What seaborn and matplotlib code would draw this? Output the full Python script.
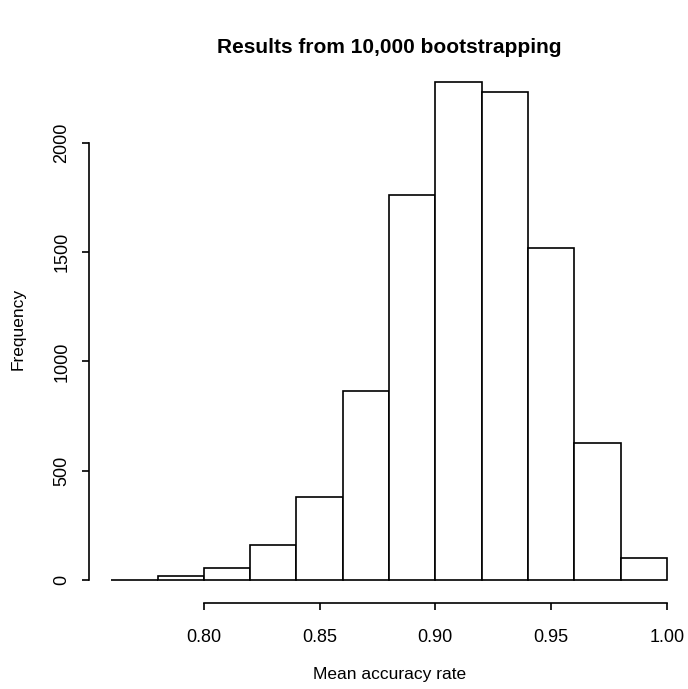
import numpy as np
import pandas as pd
import matplotlib
matplotlib.use("Agg")
import matplotlib.pyplot as plt
import seaborn as sns

# bin edges of the histogram (width 0.02) and the counts
bin_edges = [0.76, 0.78, 0.80, 0.82, 0.84, 0.86, 0.88, 0.90, 0.92, 0.94, 0.96, 0.98, 1.00]
counts = [0, 18, 55, 160, 380, 865, 1761, 2278, 2232, 1519, 627, 102]

x_ticks = [0.80, 0.85, 0.90, 0.95, 1.00]
x_tick_labels = ["0.80", "0.85", "0.90", "0.95", "1.00"]
y_ticks = [0, 500, 1000, 1500, 2000]

df = pd.DataFrame({
    "mid": [(a + b) / 2 for a, b in zip(bin_edges[:-1], bin_edges[1:])],
    "count": counts,
})

sns.set_style("white")
plt.rcParams["font.family"] = ["Liberation Sans", "DejaVu Sans"]
plt.rcParams["text.color"] = "black"
plt.rcParams["axes.labelcolor"] = "black"

fig = plt.figure(figsize=(6.88, 6.89), dpi=100)
ax = fig.add_axes([0.145, 0.1424, 0.841, 0.761])

sns.histplot(data=df, x="mid", weights="count", bins=bin_edges,
             color="white", edgecolor="black", linewidth=1.2, alpha=1, ax=ax)

ax.set_xlim(0.755, 1.005)
ax.set_ylim(-50, 2350)

# R style axes: detached spines only spanning the tick range
for s in ["top", "right"]:
    ax.spines[s].set_visible(False)
ax.spines["left"].set_position(("outward", 8))
ax.spines["bottom"].set_position(("outward", 8.5))
ax.spines["left"].set_bounds(0, 2000)
ax.spines["bottom"].set_bounds(0.80, 1.00)
for s in ["left", "bottom"]:
    ax.spines[s].set_linewidth(1.2)
    ax.spines[s].set_color("black")

ax.set_xticks(x_ticks)
ax.set_xticklabels(x_tick_labels)
ax.set_yticks(y_ticks)
ax.set_yticklabels([str(v) for v in y_ticks], rotation=90, va="center")
ax.tick_params(direction="out", length=5, width=1.2, colors="black",
               labelsize=13, left=True, bottom=True)
ax.tick_params(axis="x", pad=14)
ax.tick_params(axis="y", pad=8)

ax.set_xlabel("Mean accuracy rate", fontsize=12.5, labelpad=15)
ax.set_ylabel("Frequency", fontsize=12.5, labelpad=20)
ax.set_title("Results from 10,000 bootstrapping", fontsize=15, fontweight="bold", pad=10)

fig.savefig("out.png", dpi=100)
